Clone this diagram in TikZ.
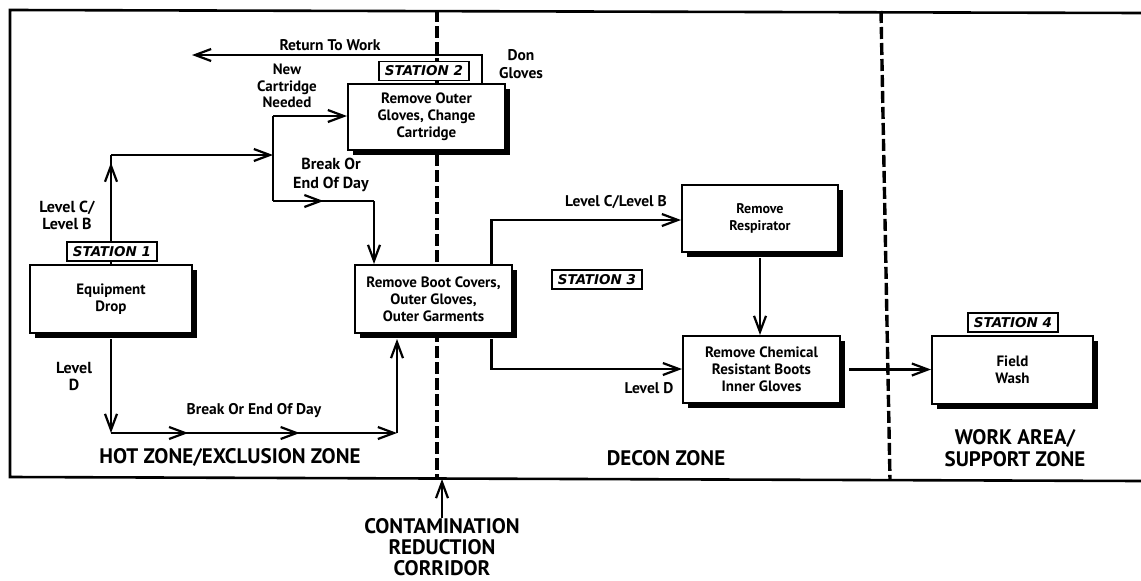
\documentclass[tikz,border=0pt]{standalone}
\usepackage{fontspec}
\setmainfont{PT Sans}
\newfontfamily\tagfont{DejaVu Sans}
\usetikzlibrary{arrows.meta,decorations.markings}
\tikzset{>={Straight Barb[length=16pt,width=12pt]},
  stepbox/.style={draw, line width=2pt, fill=white, align=center,
    font=\fontsize{15}{17}\selectfont\bfseries, inner sep=2pt},
  boxshadow/.style={line width=5pt, line join=miter},
  stationtag/.style={draw, line width=1.5pt, fill=white, inner sep=1pt,
    minimum width=90pt, minimum height=19pt,
    font=\tagfont\fontsize{13.5}{15}\selectfont\bfseries\itshape},
  lbl/.style={align=center, inner sep=0pt, font=\fontsize{15.5}{17.5}\selectfont\bfseries},
  zonelbl/.style={align=center, inner sep=0pt, font=\fontsize{21}{22.5}\selectfont\bfseries},
  flow/.style={line width=2.2pt},
  zoneline/.style={line width=3.4pt, dash pattern=on 12pt off 4pt},
  arrowat/.style={postaction={decorate}, decoration={markings,
    mark=at position #1 with {\arrow{>}}}}
}
\begin{document}
\begin{tikzpicture}[x=1pt,y=-1pt]
  \useasboundingbox (0,0) rectangle (1141,581);
  % frame and zone borders
  \draw[line width=2.6pt] (1141,13) -- (10,10) -- (10,477) -- (1141,481);
  \draw[zoneline] (437,10) -- (437,477);
  \draw[zoneline] (881,11) -- (890,480);
  % stations
  \node[stepbox, minimum width=162pt, minimum height=68pt] (drop) at (111,299)
    {Equipment\\Drop};
  \node[stepbox, minimum width=157pt, minimum height=66pt] (outer) at (426.5,117)
    {Remove Outer\\Gloves, Change\\Cartridge};
  \node[stepbox, minimum width=157pt, minimum height=68pt] (boot) at (433.5,299)
    {Remove Boot Covers,\\Outer Gloves,\\Outer Garments};
  \node[stepbox, font=\fontsize{14}{17}\selectfont\bfseries,
    minimum width=156pt, minimum height=67pt] (resp) at (760,218.5)
    {Remove\\Respirator};
  \node[stepbox, minimum width=157pt, minimum height=67pt] (chem) at (761.5,369.5)
    {Remove Chemical\\Resistant Boots\\Inner Gloves};
  \node[stepbox, minimum width=161pt, minimum height=68pt] (wash) at (1012.5,370)
    {Field\\Wash};
  % shadows
  \draw[boxshadow] (35,335.5) -- (194.5,335.5) -- (194.5,270);
  \draw[boxshadow] (353,152.5) -- (507.5,152.5) -- (507.5,89);
  \draw[boxshadow] (360,335.5) -- (514.5,335.5) -- (514.5,270);
  \draw[boxshadow] (687,254.5) -- (840.5,254.5) -- (840.5,190);
  \draw[boxshadow] (688,405.5) -- (842.5,405.5) -- (842.5,341);
  \draw[boxshadow] (937,406.5) -- (1095.5,406.5) -- (1095.5,341);
  % corners
  \coordinate (c1) at (111,155);
  \coordinate (jt) at (273,116);
  \coordinate (jm) at (273,155);
  \coordinate (jb) at (273,201);
  \coordinate (c2) at (374,201);
  \coordinate (c3) at (111,433);
  \coordinate (c4) at (397,433);
  \coordinate (rw) at (482,55);
  \coordinate (ret) at (192,55);
  \coordinate (cb) at (491.5,220);
  \coordinate (cd) at (491.5,369);
  \coordinate (cf) at (442,479);
  % flows
  \draw[flow, arrowat=0.93] (drop.north) -- (c1);
  \draw[flow, ->] (c1) -- (jm);
  \draw[flow, ->] (jt) -- (jt -| outer.west);
  \draw[flow] (jt) -- (jb);
  \draw[flow, arrowat=0.5] (jb) -- (c2);
  \draw[flow, ->] (c2) -- (c2 |- boot.north);
  \draw[flow, ->] ([yshift=-5pt]drop.south) -- (c3);
  \draw[flow, ->, postaction={decorate}, decoration={markings,
    mark=at position 0.27 with {\arrow{>}},
    mark=at position 0.66 with {\arrow{>}}}] (c3) -- (c4);
  \draw[flow, ->, shorten >=5pt] (c4) -- (c4 |- boot.south);
  \draw[flow, ->] (outer.north -| rw) -- (rw) -- (ret);
  \draw[flow, ->] (boot.north -| cb) -- (cb) -- (cb -| resp.west);
  \draw[flow, ->] ([yshift=-5pt]boot.south -| cd) -- (cd) -- (cd -| chem.west);
  \draw[flow, ->] ([yshift=-5pt]resp.south) -- (resp.south |- chem.north);
  \draw[flow, ->] ([xshift=8pt]chem.east) -- (chem.east -| wash.west);
  % station tags
  \node[stationtag] (st1) at (112,251.5) {STATION 1};
  \node[stationtag] (st2) at (424,71) {STATION 2};
  \node[stationtag] (st3) at (597,279.5) {STATION 3};
  \node[stationtag] (st4) at (1013,322.5) {STATION 4};
  % labels
  \node[lbl] (lrtw) at (330,45) {Return To Work};
  \node[lbl] (ldon) at (521,64) {Don\\Gloves};
  \node[lbl, font=\fontsize{15}{16.5}\selectfont\bfseries] (lnew) at (287,86)
    {New\\Cartridge\\Needed};
  \node[lbl, font=\fontsize{16}{19}\selectfont\bfseries] (lbrk) at (331,175)
    {Break Or\\End Of Day};
  \node[lbl, font=\fontsize{16}{17}\selectfont\bfseries] (lcb) at (67,215)
    {Level C/\\Level B};
  \node[lbl, font=\fontsize{16}{17}\selectfont\bfseries] (ld) at (74,376) {Level\\D};
  \node[lbl] (lbrk2) at (254,411) {Break Or End Of Day};
  \node[lbl] (lcb2) at (616,202) {Level C/Level B};
  \node[lbl] (ld2) at (649,388) {Level D};
  % zones
  \node[zonelbl] (hot) at (230,457) {HOT ZONE/EXCLUSION ZONE};
  \node[zonelbl] (decon) at (666,458) {DECON ZONE};
  \node[zonelbl] (work) at (1015,448) {WORK AREA/\\SUPPORT ZONE};
  \node[zonelbl, font=\fontsize{21}{21}\selectfont\bfseries] (corr) at (442,547)
    {CONTAMINATION\\REDUCTION\\CORRIDOR};
  \draw[flow, ->] (corr.north) -- (cf);
\end{tikzpicture}
\end{document}
